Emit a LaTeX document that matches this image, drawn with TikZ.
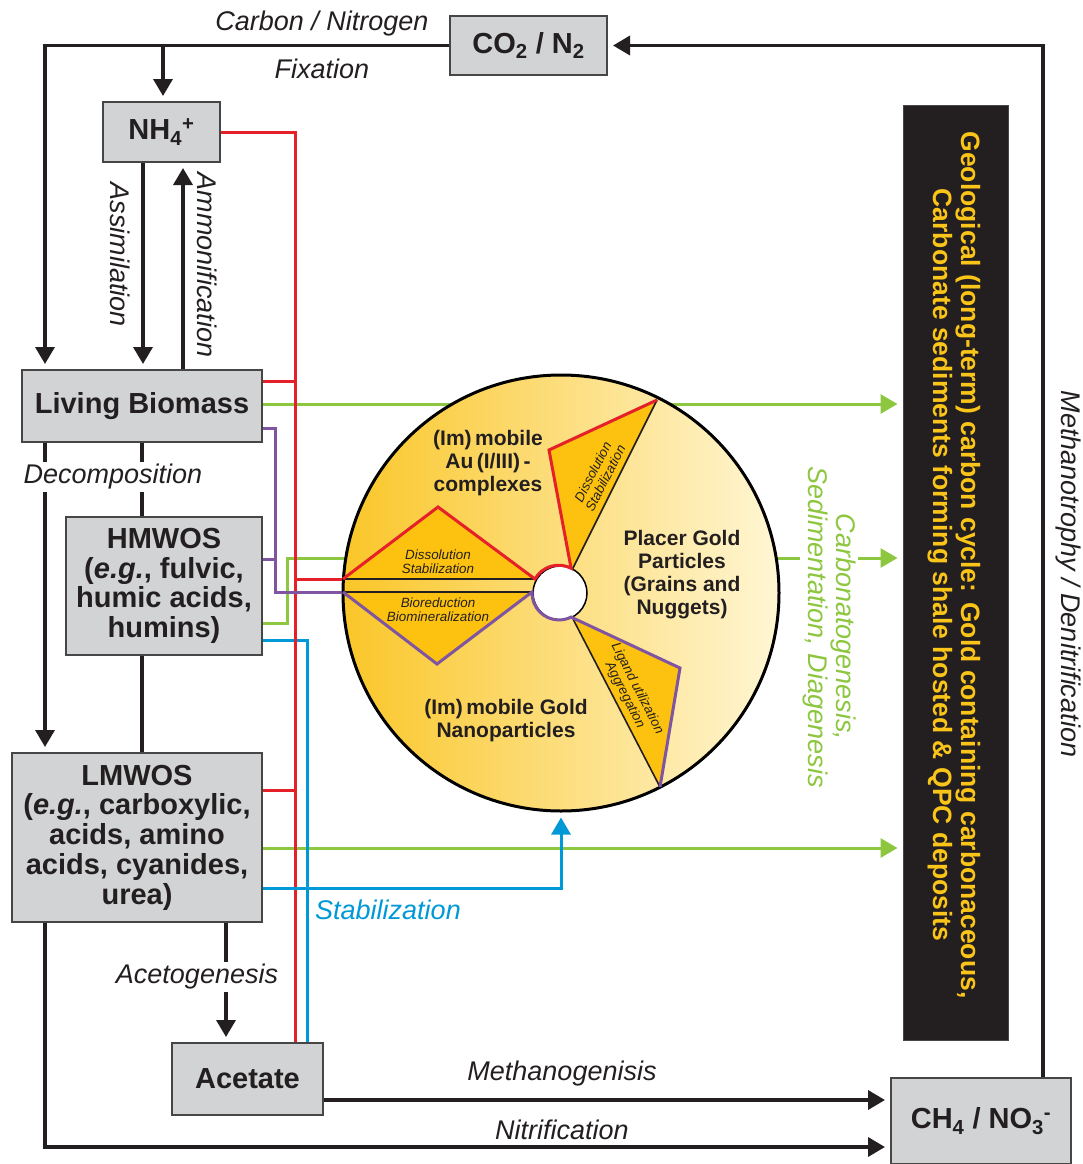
\documentclass[tikz,border=0pt]{standalone}
\usepackage{fontspec}
\setmainfont{Liberation Sans}
\usepackage{tikz}
\usetikzlibrary{arrows.meta}

\definecolor{boxgray}{RGB}{209,211,212}
\definecolor{boxedge}{RGB}{70,70,70}
\definecolor{inkblack}{RGB}{35,31,32}
\definecolor{lnred}{RGB}{230,32,40}
\definecolor{lngreen}{RGB}{141,198,63}
\definecolor{lnpurple}{RGB}{127,84,160}
\definecolor{lnblue}{RGB}{0,153,216}
\definecolor{wedgegold}{RGB}{253,194,16}
\definecolor{discleft}{RGB}{250,198,40}
\definecolor{discright}{RGB}{255,246,212}
\definecolor{geoyellow}{RGB}{250,196,24}
\definecolor{geoblack}{RGB}{35,31,32}

\newcommand{\boxfnt}{\fontsize{29}{29.7}\selectfont\bfseries}
\newcommand{\procfnt}{\fontsize{27}{28}\selectfont\itshape}
\newcommand{\discfnt}{\fontsize{21}{23}\selectfont\bfseries}
\newcommand{\wedgefnt}{\fontsize{13.4}{14}\selectfont\itshape}
\newcommand{\geofnt}{\fontsize{26.5}{28}\selectfont\bfseries}

\begin{document}
\begin{tikzpicture}[x = 1pt, y = -1pt, text = inkblack,
        box/.style = {draw = boxedge, fill = boxgray, line width = 2pt, inner sep = 0pt, align = center, font = \boxfnt},
        proc/.style = {font = \procfnt, inner sep = 2pt},
        tip/.style = {-{Triangle[length = 17pt, width = 19pt]}, shorten > = 5pt},
        link/.style = {line width = 3.5pt, color = inkblack},
        flow/.style = {link, tip},
        redln/.style = {line width = 3pt, color = lnred},
        purpleln/.style = {line width = 3pt, color = lnpurple},
        greenln/.style = {line width = 3pt, color = lngreen},
        blueln/.style = {line width = 3pt, color = lnblue},
        wedge/.style = {fill = wedgegold},
        edge/.style = {line width = 1.6pt, color = inkblack}
    ]
        \fill[white] (0,0) rectangle (1082,1164);
        \useasboundingbox (0,0) rectangle (1082,1164);

        % pools
        \node[box, minimum width = 157pt, minimum height = 59pt] (co2) at (528.5,45.5) {CO\textsubscript{2} / N\textsubscript{2}};
        \node[box, minimum width = 117pt, minimum height = 60pt] (nh4) at (161.5,132) {NH\textsubscript{4}\textsuperscript{+}};
        \node[box, minimum width = 240pt, minimum height = 72pt] (lb) at (142,406) {Living Biomass};
        \node[box, minimum width = 196pt, minimum height = 138pt] (hm) at (164,586) {HMWOS\\(\textit{e.g.}, fulvic,\\humic acids,\\humins)};
        \node[box, minimum width = 250pt, minimum height = 169pt] (lm) at (137,837.5) {LMWOS\\(\textit{e.g.}, carboxylic,\\acids, amino\\acids, cyanides,\\urea)};
        \node[box, minimum width = 151pt, minimum height = 72pt] (ac) at (247.5,1079) {Acetate};
        \node[box, minimum width = 180pt, minimum height = 86pt] (ch4) at (981,1121) {CH\textsubscript{4} / NO\textsubscript{3}\textsuperscript{-}};
        \node[draw = boxedge, fill = geoblack, line width = 1pt, minimum width = 105pt, minimum height = 935pt] (geo) at (955.5,572.5) {};
        \node[font = \geofnt, text = geoyellow, rotate = -90, align = center] (geotxt) at (954,565) {Geological (long-term) carbon cycle: Gold containing carbonaceous,\\Carbonate sediments forming shale hosted \& QPC deposits};

        \coordinate (purplebus) at (275,0);
        \coordinate (greenbus) at (287,0);
        \coordinate (redbus) at (295,0);
        \coordinate (bluebus) at (307,0);

        % carbon / nitrogen cycle
        \draw[flow] (co2.west) -| (45,0 |- lb.north);
        \draw[flow] (163,0 |- co2.west) -- (163,0 |- nh4.north);
        \draw[flow] (143,0 |- nh4.south) -- (143,0 |- lb.north);
        \draw[flow] (183,0 |- lb.north) -- (183,0 |- nh4.south);
        \draw[flow] (45,0 |- lb.south) -- (45,0 |- lm.north);
        \draw[link] (142,0 |- lb.south) -- (142,0 |- hm.north);
        \draw[link] (142,0 |- hm.south) -- (142,0 |- lm.north);
        \draw[flow] (226,0 |- lm.south) -- (226,0 |- ac.north);
        \draw[flow] (ac.east |- 0,1100) -- (ch4.west |- 0,1100);
        \draw[flow] (45,0 |- lm.south) |- (ch4.west |- 0,1147);
        \draw[flow] (1043,0 |- ch4.north) |- (co2.east);

        % long-term burial
        \draw[greenln, tip] (lb.east |- 0,404) -- (geo.west |- 0,404);
        \draw[greenln, tip] (hm.east |- 0,623) -| (greenbus |- 0,558) -- (geo.west |- 0,558);
        \draw[greenln, tip] (lm.east |- 0,848) -- (geo.west |- 0,848);

        % gold disc
        \node[circle, draw = black, line width = 3pt, minimum size = 436pt, inner sep = 0pt, left color = discleft, right color = discright] (disc) at (561,593) {};
        \fill[wedge] (343,579) -- (438,507) -- (535,579) -- cycle;
        \fill[wedge] (343,592) -- (437,664) -- (532,592) -- cycle;
        \fill[wedge] (572,570) -- (549,450) -- (657,400) -- cycle;
        \fill[wedge] (573,619) -- (680,668) -- (660,787) -- cycle;
        \node[circle, fill = white, draw = black, line width = 1.5pt, minimum size = 54pt, inner sep = 0pt] (core) at (560,593) {};
        \draw[edge] (343,579) -- (535,579);
        \draw[edge] (343,592) -- (532,592);
        \draw[edge] (572,570) -- (657,400);
        \draw[edge] (573,619) -- (660,787);
        \draw[redln] (343,579) -- (438,507) -- (535,579) arc[start angle = -150.8, end angle = -62.4, radius = 27] -- (549,450) -- (657,400);
        \draw[purpleln] (343,592) -- (437,664) -- (532,592) arc[start angle = 182, end angle = 63.4, radius = 27] -- (680,668) -- (660,787);

        % ligands
        \draw[blueln] (hm.east |- 0,640) -| (bluebus |- ac.north);
        \draw[redln] (nh4.east) -| (redbus |- ac.north);
        \draw[redln] (lb.east |- 0,381) -- (redbus |- 0,381);
        \draw[redln] (lm.east |- 0,790) -- (redbus |- 0,790);
        \draw[redln] (redbus |- 0,579) -- (disc.west |- 0,579);
        \draw[purpleln] (lb.east |- 0,428) -| (purplebus |- 0,592) -- (disc.west |- 0,592);
        \draw[purpleln] (hm.east |- 0,559) -- (purplebus |- 0,559);
        \draw[blueln, tip] (lm.east |- 0,888) -| (disc.south);

        % labels
        \node[proc] (lcarbon) at (322,24) {Carbon / Nitrogen};
        \node[proc] (lfix) at (322,69) {Fixation};
        \node[proc, rotate = -90] (lassim) at (120,255) {Assimilation};
        \node[proc, rotate = -90] (lammon) at (207,265) {Ammonification};
        \node[proc, fill = white] (ldecomp) at (113,477) {Decomposition};
        \node[proc, fill = white] (laceto) at (197,977) {Acetogenesis};
        \node[proc] (lmethano) at (562,1074) {Methanogenisis};
        \node[proc] (lnitri) at (562,1130) {Nitrification};
        \node[proc, rotate = -90] (lmethtr) at (1068,574) {Methanotrophy / Denitrification};
        \node[proc, text = lnblue] (lstab) at (388,910) {Stabilization};
        \node[proc, text = lngreen, rotate = -90, fill = white, align = center] (lburial) at (829,627) {Carbonatogenesis,\\Sedimentation, Diagenesis};

        \node[font = \discfnt, align = center] (lcomplex) at (488,463) {(Im)\,mobile\\Au\,(I/III)\,-\\complexes};
        \node[font = \discfnt, align = center] (lplacer) at (682,575) {Placer Gold\\Particles\\(Grains and\\Nuggets)};
        \node[font = \discfnt, align = center] (lnano) at (506,721) {(Im)\,mobile Gold\\Nanoparticles};

        \node[font = \wedgefnt, align = center] (wdiss) at (438,562) {Dissolution\\Stabilization};
        \node[font = \wedgefnt, align = center] (wbio) at (438,610) {Bioreduction\\Biomineralization};
        \node[font = \wedgefnt, align = center, rotate = 63] (wdiss2) at (599,475) {Dissolution\\Stabilization};
        \node[font = \wedgefnt, align = center, rotate = -63] (wlig) at (631,692) {Ligand utilization\\Aggregation};
    \end{tikzpicture}
\end{document}
